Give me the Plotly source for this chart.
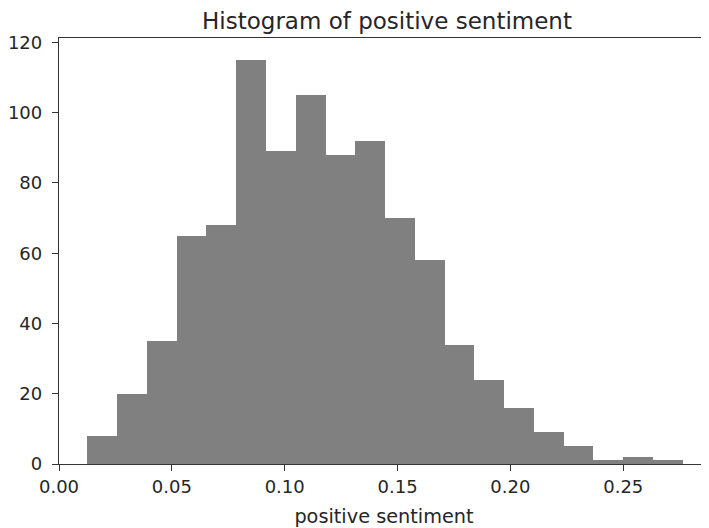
import numpy as np
import plotly.graph_objects as go

# Histogram data
counts = [8, 20, 35, 65, 68, 115, 89, 105, 88, 92, 70, 58, 34, 24, 16, 9, 5, 1, 2, 1]
data_min = 0.0126
data_max = 0.2763
x_ticks = [0.00, 0.05, 0.10, 0.15, 0.20, 0.25]
y_ticks = [0, 20, 40, 60, 80, 100, 120]

edges = np.linspace(data_min, data_max, len(counts) + 1)
centers = (edges[:-1] + edges[1:]) / 2
width = edges[1] - edges[0]

fig = go.Figure(go.Bar(
    x=centers, y=counts, width=width,
    marker=dict(color="#808080", line=dict(width=0)),
))

# page body has an 8px default margin, so the figure is shifted by 8px
off = 8
W, H = 709 - off, 528 - off
font = "DejaVu Sans"
fig.update_layout(
    width=W, height=H,
    margin=dict(l=59 - off, r=0, t=38 - off, b=528 - 464, pad=0),
    paper_bgcolor="white", plot_bgcolor="white",
    bargap=0,
    showlegend=False,
    font=dict(family=font, color="#262626"),
    title=dict(text="Histogram of positive sentiment", x=(387 - off) / W, xref="container",
               xanchor="center", y=1 - (21 - off) / H, yanchor="middle",
               font=dict(size=23, family=font, color="#262626")),
    xaxis=dict(
        range=[0, 0.288], tickvals=x_ticks, tickformat=".2f",
        showline=True, linecolor="#333333", linewidth=1.3, mirror=True,
        ticks="outside", ticklen=6, tickcolor="#333333", tickwidth=1.2,
        showgrid=False, zeroline=False,
        tickfont=dict(size=18, family=font, color="#262626"),
        title=dict(text="positive sentiment", font=dict(size=19.3, family=font, color="#262626"), standoff=13),
    ),
    yaxis=dict(
        range=[0, 121.25], tickvals=y_ticks,
        showline=True, linecolor="#333333", linewidth=1.3, mirror=False,
        ticks="outside", ticklen=6, tickcolor="#333333", tickwidth=1.2,
        showgrid=False, zeroline=False, ticklabelstandoff=6,
        tickfont=dict(size=18, family=font, color="#262626"),
    ),
)

fig.write_html("out.html")
